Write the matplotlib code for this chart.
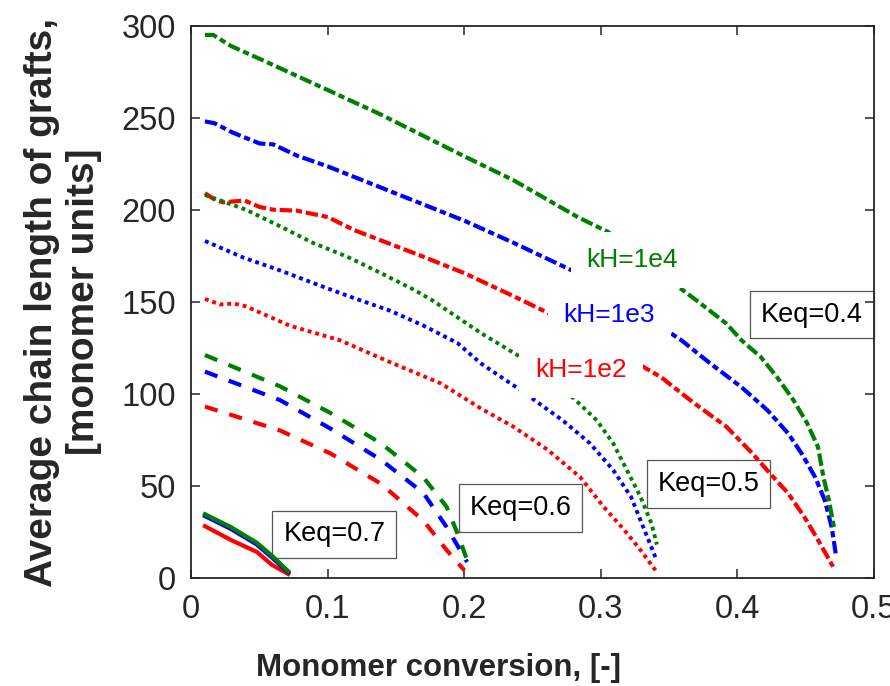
import matplotlib
matplotlib.use("Agg")
import matplotlib.pyplot as plt

plt.rcParams['font.family'] = ['Liberation Sans', 'DejaVu Sans']

# colours for the three kH values
c_1e2 = '#ff0000'
c_1e3 = '#0000ff'
c_1e4 = '#008000'

# Keq = 0.4  (dash-dot)
x04_g = [0.01, 0.016, 0.029, 0.053, 0.10, 0.138, 0.20, 0.236, 0.283, 0.305, 0.339, 0.373, 0.392, 0.403, 0.417,
         0.429, 0.441, 0.451, 0.459, 0.463, 0.467, 0.471]
y04_g = [295, 295, 289, 281, 265, 252, 229, 216, 196, 188, 168, 149, 138, 129, 120, 109, 96.5, 84, 71, 54.5, 42, 26]
x04_b = [0.01, 0.017, 0.03, 0.05, 0.06, 0.077, 0.10, 0.139, 0.20, 0.236, 0.283, 0.30, 0.359, 0.38, 0.403, 0.422,
         0.437, 0.447, 0.457, 0.464, 0.469, 0.472]
y04_b = [248, 247, 242, 236, 235.5, 229.5, 223.5, 212, 194, 182, 165.5, 158, 129, 116.5, 103.5, 91, 78.5, 67.5,
         54.5, 42, 27.5, 13]
x04_r = [0.01, 0.016, 0.023, 0.039, 0.05, 0.06, 0.077, 0.10, 0.119, 0.168, 0.20, 0.236, 0.261, 0.30, 0.344, 0.368,
         0.392, 0.411, 0.424, 0.437, 0.449, 0.459, 0.470]
y04_r = [209, 206, 204, 205, 201.5, 200, 199.5, 196, 189, 175, 165.5, 153, 144, 128, 109, 95, 82, 67.5, 56.5, 46,
         33, 20.5, 6]

# Keq = 0.5  (dotted)
x05_g = [0.01, 0.04, 0.065, 0.089, 0.114, 0.139, 0.163, 0.176, 0.212, 0.241, 0.28, 0.297, 0.309, 0.319, 0.329,
         0.337, 0.341]
y05_g = [208, 200, 191, 182, 174.5, 165.5, 156.5, 151, 133, 120, 97.5, 85.5, 73, 58.5, 44, 29.5, 18]
x05_b = [0.01, 0.038, 0.065, 0.097, 0.119, 0.146, 0.17, 0.195, 0.212, 0.241, 0.272, 0.292, 0.309, 0.322, 0.331, 0.34]
y05_b = [183, 174, 167, 158, 152, 145, 137, 127.5, 116.5, 102, 85.5, 73, 58.5, 44, 27.5, 11]
x05_r = [0.01, 0.021, 0.031, 0.04, 0.072, 0.109, 0.146, 0.183, 0.212, 0.236, 0.261, 0.285, 0.302, 0.317, 0.329, 0.34]
y05_r = [151.5, 148.5, 149, 147.5, 137, 129, 117, 105.5, 92, 82, 69.5, 54.5, 38.5, 26, 15, 4]

# Keq = 0.6  (dashed)
x06_g = [0.01, 0.065, 0.102, 0.139, 0.17, 0.187, 0.195, 0.202]
y06_g = [121, 104, 89.5, 73, 54.5, 38.5, 24, 9.5]
x06_b = [0.01, 0.065, 0.102, 0.139, 0.17, 0.187, 0.202]
y06_b = [112, 96.5, 81, 64, 46, 27.5, 8.5]
x06_r = [0.01, 0.065, 0.102, 0.139, 0.17, 0.187, 0.2]
y06_r = [93, 80, 67.5, 51, 31, 15, 4]

# Keq = 0.7  (solid)
x07 = [0.01, 0.029, 0.048, 0.059, 0.071]
y07_g = [34.5, 27.5, 19, 12, 3.5]
y07_b = [33.5, 26.5, 18, 11, 3]
y07_r = [28, 20.5, 14, 7, 2]

keq_labels = ['Keq=0.7', 'Keq=0.6', 'Keq=0.5', 'Keq=0.4']
keq_pos = [(0.1047, 23.5), (0.241, 38), (0.3787, 51), (0.4547, 143)]
kh_labels = ['kH=1e4', 'kH=1e3', 'kH=1e2']
kh_pos = [(0.323, 172.7), (0.306, 142.8), (0.2855, 112.9)]
kh_cols = [c_1e4, c_1e3, c_1e2]

fig = plt.figure(figsize=(8.9, 6.86), dpi=100)
ax = fig.add_axes([191.3 / 890, (686 - 577.7) / 686, 682.7 / 890, 552 / 686])

dashdot = (0, (3.0, 0.9, 1.5, 0.9))
dotted = (0, (1.0, 1.0))
dashed = (0, (3.2, 2.9))

ax.plot(x04_r, y04_r, color=c_1e2, lw=3, ls=dashdot)
ax.plot(x04_b, y04_b, color=c_1e3, lw=3, ls=dashdot)
ax.plot(x04_g, y04_g, color=c_1e4, lw=3, ls=dashdot)

ax.plot(x05_r, y05_r, color=c_1e2, lw=2.8, ls=dotted)
ax.plot(x05_b, y05_b, color=c_1e3, lw=2.8, ls=dotted)
ax.plot(x05_g, y05_g, color=c_1e4, lw=2.8, ls=dotted)

ax.plot(x06_r, y06_r, color=c_1e2, lw=3, ls=dashed)
ax.plot(x06_b, y06_b, color=c_1e3, lw=3, ls=dashed)
ax.plot(x06_g, y06_g, color=c_1e4, lw=3, ls=dashed)

ax.plot(x07, y07_r, color=c_1e2, lw=3)
ax.plot(x07, y07_b, color=c_1e3, lw=3)
ax.plot(x07, y07_g, color=c_1e4, lw=3)

for lab, (tx, ty) in zip(keq_labels, keq_pos):
    ax.text(tx, ty, lab, fontsize=19.5, ha='center', va='center', zorder=1.5,
            bbox=dict(boxstyle='square,pad=0.4', fc='white', ec='#555555', lw=0.9))

for lab, (tx, ty), col in zip(kh_labels, kh_pos, kh_cols):
    ax.text(tx, ty, lab, fontsize=19, color=col, ha='center', va='center', zorder=3,
            bbox=dict(boxstyle='square,pad=0.6', fc='white', ec='none'))

ax.set_xlim(0, 0.5)
ax.set_ylim(0, 300)
ax.set_xticks([0, 0.1, 0.2, 0.3, 0.4, 0.5])
ax.set_xticklabels(['0', '0.1', '0.2', '0.3', '0.4', '0.5'])
ax.set_yticks([0, 50, 100, 150, 200, 250, 300])

for s in ax.spines.values():
    s.set_color('#262626')
    s.set_linewidth(1.3)
ax.tick_params(direction='in', length=6.5, width=1.1, color='#262626', labelcolor='#262626',
               top=True, right=True, labelsize=23.5)
ax.tick_params(axis='x', pad=12)
ax.tick_params(axis='y', pad=11)

fig.text(438 / 890, 1 - 668 / 686, 'Monomer conversion, [-]', fontsize=22.5, fontweight='bold',
         color='#262626', ha='center', va='center')
fig.text(63 / 890, 1 - 302 / 686, 'Average chain length of grafts,\n[monomer units]', fontsize=28,
         fontweight='bold', color='#262626', rotation=90, ha='center', va='center',
         multialignment='center')

fig.savefig('out.png', dpi=100)
